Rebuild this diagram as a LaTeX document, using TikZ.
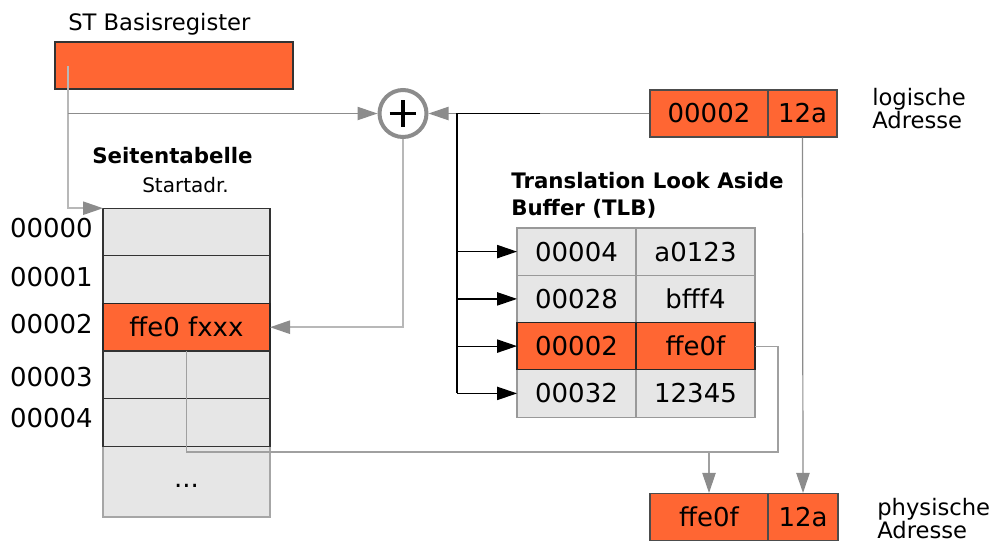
\documentclass[tikz,border=0pt]{standalone}
\usepackage{fontspec}
\setmainfont{DejaVu Sans}
\usetikzlibrary{arrows.meta}
\definecolor{org}{HTML}{FF6633}
\definecolor{cellgray}{HTML}{E6E6E6}
\definecolor{lnG}{HTML}{8C8C8C}
\definecolor{lnL}{HTML}{B8B8B8}
\definecolor{lnM}{HTML}{A0A0A0}
\begin{document}
\begin{tikzpicture}[x=0.75pt,y=-0.75pt,
  txt/.style={font=\fontsize{19.5}{21}\selectfont, text=black},
  stcell/.style={draw=black!80, line width=0.8pt, fill=cellgray, minimum width=125.25pt, minimum height=35.7pt, inner sep=0pt, outer sep=0pt, txt},
  tlbcell/.style={draw=black!40, line width=0.8pt, fill=cellgray, minimum width=89.25pt, minimum height=35.45pt, inner sep=0pt, outer sep=0pt, txt},
  hot/.style={fill=org, draw=black!85},
  gtip/.style={-{Triangle[length=15pt,width=10pt,color=lnG]}},
  btip/.style={-{Triangle[length=15pt,width=10pt]}},
  gline/.style={draw=lnG, line width=0.9pt},
  lline/.style={draw=lnL, line width=1.1pt},
  mline/.style={draw=lnM, line width=0.9pt},
  bline/.style={draw=black, line width=1.1pt},
  lbl/.style={font=\fontsize{17}{17.2}\selectfont, align=left, inner sep=0pt, anchor=base west},
  ttl/.style={font=\fontsize{16}{20}\selectfont\bfseries, align=left, inner sep=0pt}
]
\useasboundingbox (0,0) rectangle (994,544);

% ST Basisregister
\node[lbl] (sttitle) at (68,30) {ST Basisregister};
\node[draw=black!80, fill=org, line width=0.8pt, minimum width=178.5pt, minimum height=35.25pt, inner sep=0pt] (reg) at (174,65.5) {};

% Seitentabelle
\node[ttl, anchor=base west] (sttab) at (92,163) {Seitentabelle};
\node[font=\fontsize{15}{16}\selectfont, inner sep=0pt, anchor=base west] (start) at (142,192.5) {Startadr.};
\node[stcell, draw=black!35, minimum height=53.25pt] (st5) at (186.5,481.5) {\strut...};
\node[stcell] (st0) at (186.5,232) {};
\node[stcell] (st1) at (186.5,279.6) {};
\node[stcell, hot] (st2) at (186.5,327.2) {ffe0 fxxx};
\node[stcell] (st3) at (186.5,374.8) {};
\node[stcell] (st4) at (186.5,422.4) {};

\node[txt, anchor=east, inner sep=0pt] (n0) at (93,228) {00000};
\node[txt, anchor=east, inner sep=0pt] (n1) at (93,277) {00001};
\node[txt, anchor=east, inner sep=0pt] (n2) at (93,324) {00002};
\node[txt, anchor=east, inner sep=0pt] (n3) at (93,377) {00003};
\node[txt, anchor=east, inner sep=0pt] (n4) at (93,418) {00004};

% plus
\node[circle, draw=lnG, line width=3pt, minimum size=35.25pt, inner sep=0pt, fill=white] (plus) at (403,113.5) {};
\draw[line width=2.8pt, line cap=butt] ([xshift=-10pt]plus.center) -- ([xshift=10pt]plus.center);
\draw[line width=2.8pt, line cap=butt] ([yshift=-10pt]plus.center) -- ([yshift=10pt]plus.center);

% logical address
\node[txt, draw=black!70, fill=org, line width=0.8pt, minimum width=88.5pt, minimum height=35.25pt, inner sep=0pt] (l1) at (709,113.5) {00002};
\node[txt, draw=black!70, fill=org, line width=0.8pt, minimum width=51.75pt, minimum height=35.25pt, inner sep=0pt] (l2) at (802.5,113.5) {12a};
\node[lbl] (logt) at (872,128) {logische\\Adresse};

% physical address
\node[txt, draw=black!70, fill=org, line width=0.8pt, minimum width=88.5pt, minimum height=35.25pt, inner sep=0pt] (p1) at (709,517) {ffe0f};
\node[txt, draw=black!70, fill=org, line width=0.8pt, minimum width=52.5pt, minimum height=35.25pt, inner sep=0pt] (p2) at (803,517) {12a};
\node[lbl] (phyt) at (877,538.5) {physische\\Adresse};

% TLB
\node[ttl, anchor=north west] (tlbt) at (511,172) {Translation Look Aside\\Buffer (TLB)};
\node[tlbcell] (t1a) at (576.5,251.6) {00004};
\node[tlbcell] (t1b) at (695.5,251.6) {a0123};
\node[tlbcell] (t2a) at (576.5,298.9) {00028};
\node[tlbcell] (t2b) at (695.5,298.9) {bfff4};
\node[tlbcell] (t4a) at (576.5,393.4) {00032};
\node[tlbcell] (t4b) at (695.5,393.4) {12345};
\node[tlbcell, hot] (t3a) at (576.5,346.1) {00002};
\node[tlbcell, hot] (t3b) at (695.5,346.1) {ffe0f};

% connectors
\coordinate (rs) at (68,66);
\draw[lline, gtip] (rs) |- (st0.north west);
\draw[gline, gtip] (rs |- plus) -- (plus.west);
\draw[gline, gtip] (l1.west) -- (plus.east);
\draw[lline, gtip] (plus.south) |- (st2.east);

\coordinate (bk) at (457,113.5);
\coordinate (bs) at (540,113.5);
\draw[bline] (bs) -- (bk) -- (bk |- t4a.west);
\foreach \r in {t1a,t2a,t3a,t4a}{
  \draw[bline, line width=0.9pt, btip] (bk |- \r.west) -- (\r.west);
}

\draw[gline, gtip] (l2.south) -- (p2.north);
\coordinate (j) at (778,452);
\draw[mline] (st2.south) |- (j) |- (t3b.east);
\draw[mline, gtip] (p1.north |- j) -- (p1.north);
\end{tikzpicture}
\end{document}
